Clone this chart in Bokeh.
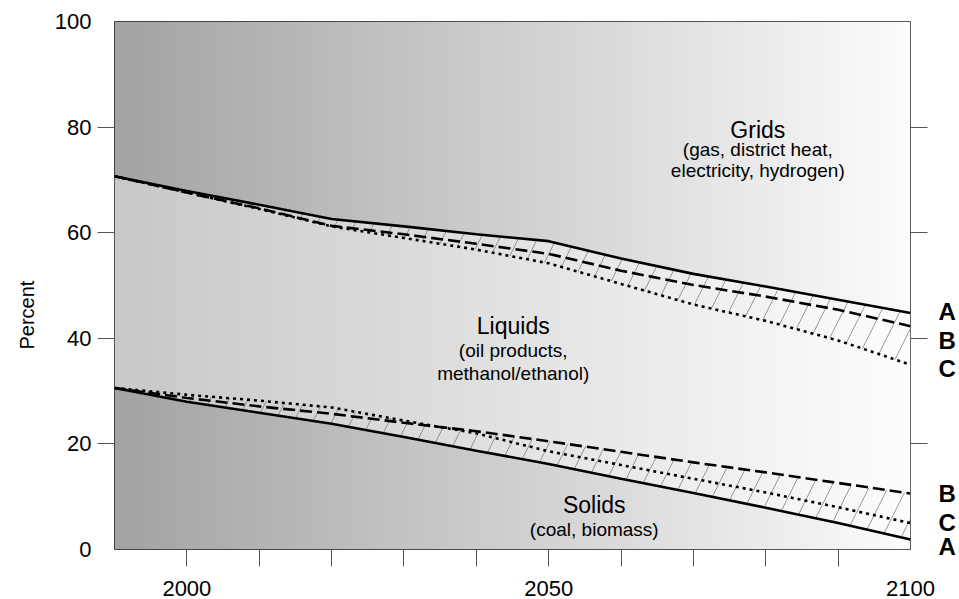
import numpy as np
from bokeh.plotting import figure
from bokeh.models import FixedTicker, LinearAxis, Range1d, Label, Title
from bokeh.embed import file_html
from bokeh.resources import INLINE

# ---------------- data ----------------
years = [1990, 2000, 2010, 2020, 2030, 2040, 2050, 2060, 2070, 2080, 2090, 2100]
# boundary between liquids and grids (percent)
upper_A = [70.7, 67.9, 65.3, 62.6, 61.2, 59.7, 58.4, 55.1, 52.2, 49.8, 47.3, 44.8]
upper_B = [70.7, 67.6, 64.6, 61.3, 59.7, 57.9, 56.0, 52.8, 50.1, 47.9, 45.4, 42.3]
upper_C = [70.7, 67.6, 64.5, 61.2, 59.0, 56.8, 54.2, 50.3, 46.4, 43.3, 39.6, 35.0]
# boundary between solids and liquids (percent)
lower_A = [30.6, 28.0, 25.9, 23.8, 21.3, 18.7, 16.2, 13.4, 10.7, 7.9, 5.0, 1.9]
lower_B = [30.6, 28.7, 27.1, 25.7, 24.0, 22.4, 20.5, 18.5, 16.5, 14.6, 12.6, 10.6]
lower_C = [30.6, 29.3, 28.2, 26.9, 24.4, 22.0, 18.6, 16.0, 13.4, 10.8, 8.0, 5.0]

x_ticks = [2000, 2010, 2020, 2030, 2040, 2050, 2060, 2070, 2080, 2090]
x_labels = [2000, 2050, 2100]
y_ticks = [20, 40, 60, 80]
y_labels = [0, 20, 40, 60, 80, 100]

region_text = [
    # (x, y, text, size)
    (2078.9, 79.5, "Grids", "23px"),
    (2078.9, 75.8, "(gas, district heat,", "19px"),
    (2078.9, 71.7, "electricity, hydrogen)", "19px"),
    (2045.1, 42.3, "Liquids", "23px"),
    (2045.1, 37.6, "(oil products,", "19px"),
    (2045.1, 33.4, "methanol/ethanol)", "19px"),
    (2056.3, 8.4, "Solids", "23px"),
    (2056.3, 3.7, "(coal, biomass)", "19px"),
]
# scenario letters at the right end (label position in percent -> letter)
end_letters = {45: "A", 39.5: "B", 34.3: "C", 10.6: "B", 5.2: "C", 0.5: "A"}

FONT = "Liberation Sans"
X0, X1 = years[0], years[-1]
Y0, Y1 = 0, 100

p = figure(width=959, height=599, x_range=Range1d(X0, X1), y_range=Range1d(Y0, Y1),
           output_backend="svg", toolbar_location=None,
           min_border_left=114, min_border_right=49, min_border_top=21, min_border_bottom=50,
           x_axis_location=None, y_axis_location=None)
p.grid.visible = False
p.background_fill_color = "white"
p.border_fill_color = "white"
p.outline_line_color = "#222222"
p.outline_line_width = 1

# background gradient (dark grey at left -> near white at right)
n = 256
t = np.linspace(0, 1, n)
g = (163 + 89 * t).astype(np.uint8)
img = np.empty((1, n), dtype=np.uint32)
view = img.view(dtype=np.uint8).reshape((1, n, 4))
view[0, :, 0] = g
view[0, :, 1] = g
view[0, :, 2] = g
view[0, :, 3] = 255
p.image_rgba(image=[img], x=X0, y=Y0, dw=X1 - X0, dh=Y1 - Y0)

# lighter liquids band
p.varea(x=years, y1=lower_A, y2=upper_A, fill_color="white", fill_alpha=0.40)

# hatched uncertainty bands
up_hi = np.maximum.reduce([upper_A, upper_B, upper_C])
up_lo = np.minimum.reduce([upper_A, upper_B, upper_C])
lo_hi = np.maximum.reduce([lower_A, lower_B, lower_C])
lo_lo = np.minimum.reduce([lower_A, lower_B, lower_C])
for y1, y2 in [(up_lo, up_hi), (lo_lo, lo_hi)]:
    p.varea(x=years, y1=y1, y2=y2, fill_alpha=0, hatch_pattern="/",
            hatch_color="#707070", hatch_weight=0.7, hatch_scale=38)

# lines
styles = {"A": "solid", "B": "12 5", "C": "3 4"}
for key, up, lo in [("A", upper_A, lower_A), ("B", upper_B, lower_B), ("C", upper_C, lower_C)]:
    for ys in (up, lo):
        p.line(years, ys, line_color="black", line_width=2.6, line_dash=styles[key])


def tick_axis(ticks):
    ax = LinearAxis(ticker=FixedTicker(ticks=ticks))
    ax.axis_line_color = None
    ax.major_tick_out = 17
    ax.major_tick_in = 0
    ax.minor_tick_line_color = None
    ax.major_tick_line_color = "#555555"
    ax.major_label_overrides = {v: "" for v in ticks}
    ax.major_label_text_font_size = "0px"
    ax.major_label_standoff = 0
    return ax


def label_axis(ticks, overrides=None, size="22px", style="normal", standoff=6):
    ax = LinearAxis(ticker=FixedTicker(ticks=ticks))
    ax.axis_line_color = None
    ax.major_tick_line_color = None
    ax.major_tick_out = 0
    ax.major_tick_in = 0
    ax.minor_tick_line_color = None
    if overrides:
        ax.major_label_overrides = overrides
    ax.major_label_text_font = FONT
    ax.major_label_text_font_size = size
    ax.major_label_text_font_style = style
    ax.major_label_text_color = "black"
    ax.major_label_standoff = standoff
    return ax


# bottom: tick marks, then labels
p.add_layout(tick_axis(x_ticks), "below")
p.add_layout(label_axis(x_labels, standoff=14), "below")
# left: tick marks, then labels, then title
p.add_layout(tick_axis(y_ticks), "left")
p.add_layout(label_axis(y_labels, standoff=6), "left")
p.add_layout(Title(text="Percent", align="left", offset=200, standoff=27,
                   text_font=FONT, text_font_size="20px", text_font_style="normal",
                   text_color="black"), "left")
# right: tick marks, then scenario letters
p.add_layout(tick_axis(y_ticks), "right")
p.add_layout(label_axis(list(end_letters.keys()), overrides=end_letters, size="24px",
                        style="bold", standoff=11), "right")

# region annotations
for x, y, txt, size in region_text:
    p.add_layout(Label(x=x, y=y, text=txt, text_align="center", text_baseline="middle",
                       text_font=FONT, text_font_size=size, text_color="black"))

open("out.html", "w").write(file_html(p, INLINE))
